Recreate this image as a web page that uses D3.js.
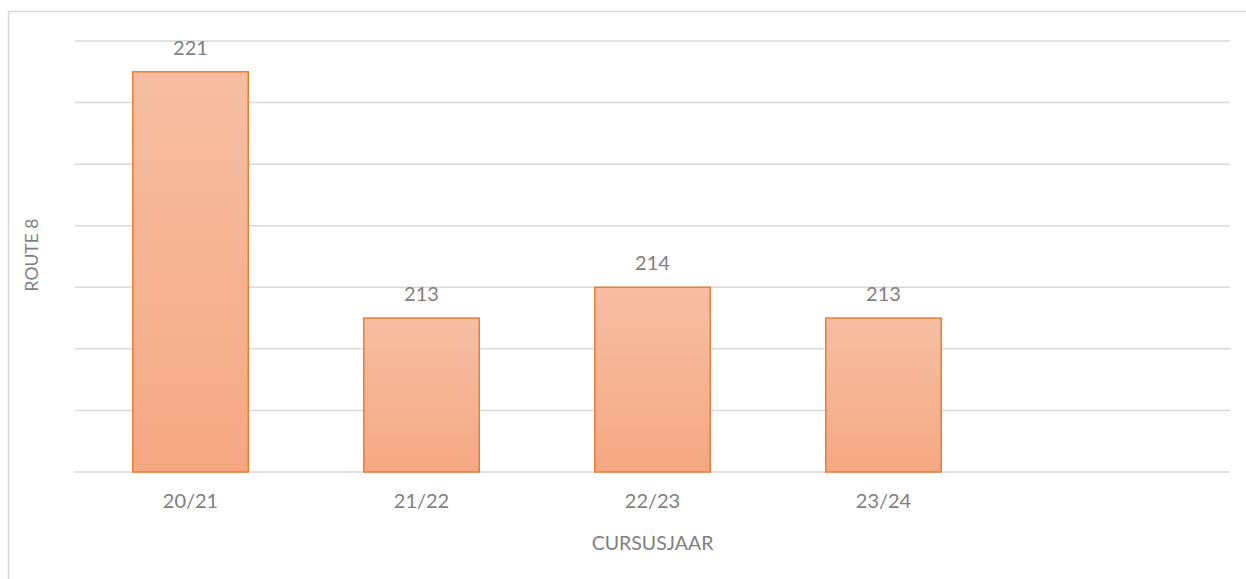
<!DOCTYPE html>
<html>
<head>
<meta charset="utf-8">
<script src="https://cdn.jsdelivr.net/npm/d3@7.9.0/dist/d3.min.js"></script>
<style>
  body { margin: 0; background: #fff; }
  text { font-family: Lato, "Open Sans", sans-serif; fill: #7f7f7f; }
</style>
</head>
<body>
<svg id="chart" width="1246" height="579"></svg>
<script>
// data
const years = ['20/21', '21/22', '22/23', '23/24', ''];
const counts = [221, 213, 214, 213];
const yTicks = [208, 210, 212, 214, 216, 218, 220, 222];

const svg = d3.select('#chart');
const margin = { top: 41, right: 16, bottom: 107, left: 75 };
const width = 1246 - margin.left - margin.right;
const height = 579 - margin.top - margin.bottom;

// outer frame
svg.append('rect')
  .attr('x', 8.5).attr('y', 11.5)
  .attr('width', 1260).attr('height', 600)
  .attr('fill', 'none').attr('stroke', '#d9d9d9').attr('stroke-width', 1.5);

const defs = svg.append('defs');
const grad = defs.append('linearGradient')
  .attr('id', 'barGrad').attr('x1', 0).attr('y1', 0).attr('x2', 0).attr('y2', 1);
grad.append('stop').attr('offset', '0%').attr('stop-color', '#f7bea3');
grad.append('stop').attr('offset', '100%').attr('stop-color', '#f5a882');

const g = svg.append('g').attr('transform', `translate(${margin.left},${margin.top})`);

let x = d3.scaleBand().domain(years).range([0, width]).paddingInner(0.5).paddingOuter(0.25);
let y = d3.scaleLinear().domain([208, 222]).range([height, 0]);

// gridlines
g.selectAll('.grid')
  .data(yTicks)
  .join('line')
  .attr('x1', 0).attr('x2', width)
  .attr('y1', (d) => y(d)).attr('y2', (d) => y(d))
  .attr('stroke', '#d9d9d9').attr('stroke-width', 1.5);

// bars
g.selectAll('.bar')
  .data(counts)
  .join('rect')
  .attr('x', (d, i) => x(years[i]))
  .attr('y', (d) => y(d))
  .attr('width', x.bandwidth())
  .attr('height', (d) => height - y(d))
  .attr('fill', 'url(#barGrad)')
  .attr('stroke', '#ed7d31').attr('stroke-width', 1.5);

// value labels
g.selectAll('.val')
  .data(counts)
  .join('text')
  .attr('x', (d, i) => x(years[i]) + x.bandwidth() / 2)
  .attr('y', (d) => y(d) - 17)
  .attr('text-anchor', 'middle')
  .attr('font-size', 20)
  .text((d) => d);

// x axis labels
const xAxis = g.append('g')
  .attr('transform', `translate(0,${height})`)
  .call(d3.axisBottom(x).tickSize(0).tickPadding(22));
xAxis.select('.domain').remove();
xAxis.selectAll('text').attr('font-size', 20).style('fill', '#7f7f7f')
  .style('font-family', 'Lato, "Open Sans", sans-serif');

// axis titles
svg.append('text')
  .attr('x', margin.left + width / 2)
  .attr('y', 550)
  .attr('text-anchor', 'middle')
  .attr('font-size', 19.5)
  .text('CURSUSJAAR');

svg.append('text')
  .attr('transform', 'translate(38,255) rotate(-90)')
  .attr('text-anchor', 'middle')
  .attr('font-size', 17.5)
  .text('ROUTE 8');
</script>
</body>
</html>
